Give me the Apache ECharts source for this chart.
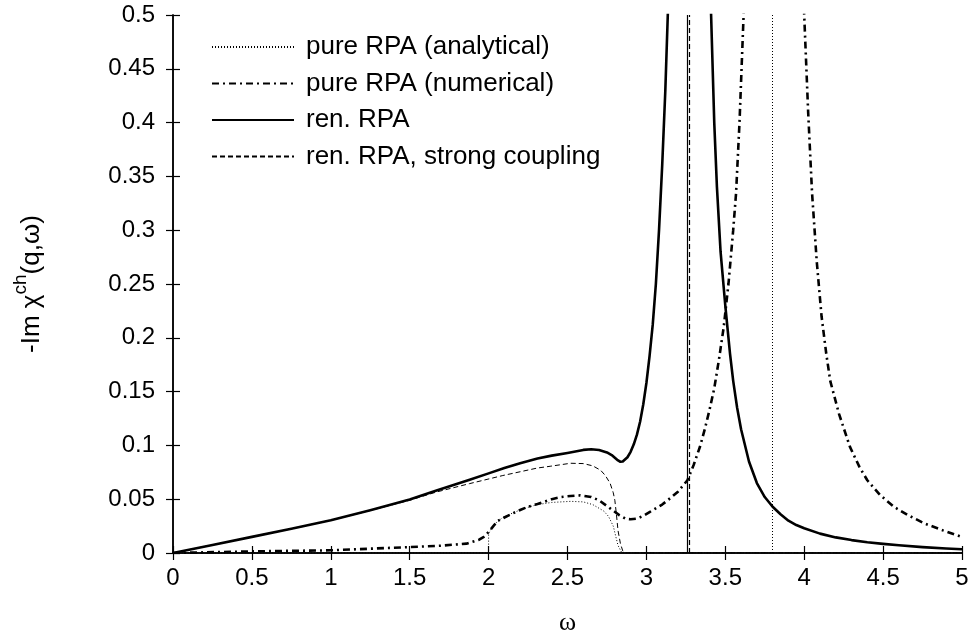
<!DOCTYPE html>
<html>
<head>
<meta charset="utf-8">
<script src="https://cdn.jsdelivr.net/npm/echarts@6/dist/echarts.min.js"></script>
<style>
html,body{margin:0;padding:0;background:#fff;}
#chart{width:974px;height:644px;}
</style>
</head>
<body>
<div id="chart"></div>
<script>
// ---- data ----
const seriesNames = ['pure RPA (analytical)', 'pure RPA (numerical)', 'ren. RPA', 'ren. RPA, strong coupling'];

const analyticalOmega = [0, 2.0, 2.0, 2.03, 2.09, 2.15, 2.2, 2.26, 2.31, 2.4, 2.52, 2.6, 2.66, 2.73, 2.76, 2.79, 2.82, 2.845, 5.0];
const analyticalValue = [0, 0, 0.018, 0.026, 0.033, 0.037, 0.040, 0.043, 0.045, 0.047, 0.048, 0.0475, 0.045, 0.039, 0.034, 0.025, 0.007, 0, 0];

const numericalOmega = [0, 0.5, 1.0, 1.5, 1.7, 1.86, 1.94, 1.97, 2.0, 2.03, 2.06, 2.1, 2.15, 2.2, 2.25, 2.31, 2.4, 2.46, 2.52, 2.58, 2.65, 2.7, 2.77, 2.83, 2.87, 2.9, 2.94, 2.98, 3.02, 3.1, 3.15, 3.2, 3.26, 3.3, 3.34, 3.37, 3.4, 3.43, 3.46, 3.49, 3.52, 3.55, 3.568, 3.59, 3.616, 3.65, 3.7, 3.8, 3.9, 3.97, 4.0, 4.025, 4.05, 4.08, 4.11, 4.14, 4.165, 4.22, 4.29, 4.35, 4.4, 4.48, 4.57, 4.66, 4.76, 4.88, 5.0];
const numericalValue = [0, 0.0015, 0.0025, 0.0055, 0.0068, 0.0087, 0.0124, 0.015, 0.0195, 0.025, 0.030, 0.033, 0.0366, 0.040, 0.043, 0.0455, 0.050, 0.052, 0.053, 0.0536, 0.052, 0.049, 0.0415, 0.035, 0.0318, 0.0313, 0.032, 0.0345, 0.038, 0.045, 0.0508, 0.057, 0.0676, 0.082, 0.099, 0.115, 0.133, 0.153, 0.18, 0.21, 0.25, 0.30, 0.334, 0.40, 0.5, 0.7, 1.2, 3.0, 1.2, 0.7, 0.5, 0.41, 0.334, 0.27, 0.22, 0.185, 0.16, 0.1296, 0.0986, 0.08, 0.0676, 0.054, 0.0428, 0.035, 0.0276, 0.021, 0.0149];

const renOmega = [0, 0.25, 0.5, 0.75, 1.0, 1.25, 1.5, 1.67, 1.88, 2.0, 2.1, 2.2, 2.31, 2.4, 2.5, 2.6, 2.65, 2.7, 2.75, 2.78, 2.8, 2.82, 2.835, 2.85, 2.86, 2.88, 2.9, 2.92, 2.94, 2.96, 2.98, 3.0, 3.02, 3.04, 3.06, 3.08, 3.1, 3.12, 3.14, 3.18, 3.22, 3.27, 3.32, 3.36, 3.39, 3.41, 3.43, 3.447, 3.47, 3.5, 3.53, 3.55, 3.575, 3.6, 3.65, 3.7, 3.75, 3.8, 3.85, 3.9, 3.95, 4.0, 4.1, 4.2, 4.3, 4.4, 4.5, 4.6, 4.75, 4.9, 5.0];
const renValue = [0, 0.0075, 0.015, 0.0225, 0.0304, 0.0397, 0.0497, 0.058, 0.068, 0.074, 0.079, 0.0835, 0.0878, 0.0905, 0.093, 0.0958, 0.0964, 0.0957, 0.0935, 0.091, 0.0885, 0.086, 0.0848, 0.085, 0.0855, 0.089, 0.094, 0.101, 0.110, 0.122, 0.138, 0.158, 0.183, 0.212, 0.25, 0.30, 0.36, 0.43, 0.52, 0.8, 1.5, 3.0, 1.5, 0.9, 0.62, 0.5, 0.40, 0.34, 0.28, 0.23, 0.185, 0.16, 0.135, 0.115, 0.085, 0.065, 0.052, 0.043, 0.036, 0.030, 0.026, 0.023, 0.018, 0.0145, 0.012, 0.010, 0.0085, 0.0072, 0.0055, 0.0042, 0.0035];

const strongOmega = [0, 0.25, 0.5, 0.75, 1.0, 1.25, 1.5, 1.67, 1.88, 2.09, 2.31, 2.39, 2.52, 2.6, 2.66, 2.71, 2.74, 2.77, 2.79, 2.8, 2.81, 2.82, 2.835, 2.85, 2.87, 5.0];
const strongValue = [0, 0.0075, 0.015, 0.0225, 0.0304, 0.0395, 0.049, 0.0567, 0.0645, 0.072, 0.079, 0.0806, 0.0834, 0.0831, 0.081, 0.0769, 0.072, 0.0648, 0.056, 0.049, 0.036, 0.021, 0.009, 0.002, 0, 0];

// delta-like poles drawn as vertical lines
const analyticalPole = 3.80;
const renPole = 3.26;
const strongPole = 3.267;

const xTicks = {min: 0, max: 5, interval: 0.5};
const yTicks = {min: 0, max: 0.5, interval: 0.05};

function pairs(xs, ys) { return xs.map((x, i) => [x, ys[i]]); }

const FONT = 'Liberation Sans';
const chart = echarts.init(document.getElementById('chart'), null, {renderer: 'canvas'});

const axisLine = {show: true, lineStyle: {color: '#000', width: 1.5}};
const tick = {show: true, inside: true, length: 7, lineStyle: {color: '#000', width: 1.2}};

chart.setOption({
  animation: false,
  backgroundColor: '#fff',
  grid: {left: 173, right: 12, top: 15, bottom: 91, containLabel: false},
  legend: {
    orient: 'vertical', left: 206, top: 29,
    itemWidth: 82, itemHeight: 16, itemGap: 10.5,
    data: seriesNames,
    itemStyle: {color: 'rgba(0,0,0,0)', borderWidth: 0, opacity: 0},
    textStyle: {fontFamily: FONT, fontSize: 26, color: '#000', padding: [0, 0, 0, 7]}
  },
  xAxis: [{
    type: 'value', min: xTicks.min, max: xTicks.max, interval: xTicks.interval,
    name: 'ω', nameLocation: 'middle', nameGap: 57,
    nameTextStyle: {fontFamily: 'Liberation Serif', fontSize: 26, color: '#000'},
    axisLine, axisTick: tick, splitLine: {show: false},
    axisLabel: {fontFamily: FONT, fontSize: 24, color: '#000', margin: 13}
  }, {
    type: 'value', position: 'top', min: xTicks.min, max: xTicks.max, interval: xTicks.interval,
    axisLine, axisTick: tick, splitLine: {show: false}, axisLabel: {show: false}
  }],
  yAxis: [{
    type: 'value', min: yTicks.min, max: yTicks.max, interval: yTicks.interval,
    name: '{a|-Im χ}{s|ch}{a|(q,ω)}', nameLocation: 'middle', nameGap: 128,
    nameTextStyle: {
      color: '#000',
      rich: {
        a: {fontFamily: FONT, fontSize: 26, color: '#000', lineHeight: 34, verticalAlign: 'bottom'},
        s: {fontFamily: FONT, fontSize: 19, color: '#000', lineHeight: 16, verticalAlign: 'top'}
      }
    },
    axisLine, axisTick: tick, splitLine: {show: false},
    axisLabel: {fontFamily: FONT, fontSize: 24, color: '#000', margin: 18}
  }, {
    type: 'value', position: 'right', min: yTicks.min, max: yTicks.max, interval: yTicks.interval,
    axisLine, axisTick: tick, splitLine: {show: false}, axisLabel: {show: false}
  }],
  series: [
    {
      name: seriesNames[0], type: 'line', symbol: 'none', clip: true,
      data: pairs(analyticalOmega, analyticalValue),
      lineStyle: {color: '#000', width: 1, type: [1, 2]},
      itemStyle: {color: '#000'},
      markLine: {silent: true, symbol: 'none', label: {show: false},
        lineStyle: {color: '#000', width: 1, type: [1, 2]},
        data: [{xAxis: analyticalPole}]}
    },
    {
      name: seriesNames[1], type: 'line', symbol: 'none', clip: true,
      data: pairs(numericalOmega, numericalValue),
      lineStyle: {color: '#000', width: 2.6, type: [7, 4, 2, 4]},
      itemStyle: {color: '#000'}
    },
    {
      name: seriesNames[2], type: 'line', symbol: 'none', clip: true,
      data: pairs(renOmega, renValue),
      lineStyle: {color: '#000', width: 2.6, type: 'solid', join: 'round'},
      itemStyle: {color: '#000'},
      markLine: {silent: true, symbol: 'none', label: {show: false},
        lineStyle: {color: '#000', width: 1.2, type: 'solid'},
        data: [{xAxis: renPole}]}
    },
    {
      name: seriesNames[3], type: 'line', symbol: 'none', clip: true,
      data: pairs(strongOmega, strongValue),
      lineStyle: {color: '#000', width: 1, type: [5, 3]},
      itemStyle: {color: '#000'},
      markLine: {silent: true, symbol: 'none', label: {show: false},
        lineStyle: {color: '#000', width: 1.2, type: [5, 3]},
        data: [{xAxis: strongPole}]}
    }
  ]
});
</script>
</body>
</html>
